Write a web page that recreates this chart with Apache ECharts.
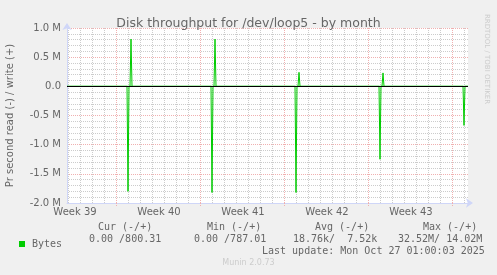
<!DOCTYPE html>
<html>
<head>
<meta charset="utf-8">
<script src="https://cdn.jsdelivr.net/npm/echarts@6/dist/echarts.min.js"></script>
<style>
html,body{margin:0;padding:0;background:#F0F0F0;}
#chart{width:497px;height:275px;}
</style>
</head>
<body>
<div id="chart"></div>
<script>
// Time unit: hours since the start of Week 39
var xMin = 70, xMax = 872;
var weekStarts = [168, 336, 504, 672, 840];
var weekLabelAt = [86, 254, 422, 590, 758];
var weekLabels = ['Week 39', 'Week 40', 'Week 41', 'Week 42', 'Week 43'];

// read samples (plotted negative)
var readTimes = [192, 360, 528, 696, 864];
var readValues = [-1.80e6, -1.82e6, -1.82e6, -1.25e6, -0.67e6];

// write samples (plotted positive)
var writeTimes = [78, 102, 126, 150, 174, 198, 222, 246, 270, 294, 318, 342, 366, 390, 414, 438, 462,
                  486, 510, 534, 558, 582, 606, 630, 654, 678, 702, 726, 750, 774, 798, 822, 846];
var writeValues = [20e3, 28e3, 18e3, 18e3, 18e3, 810e3, 20e3, 18e3, 18e3, 18e3, 18e3, 18e3, 810e3, 18e3, 18e3, 18e3, 18e3,
                   18e3, 18e3, 240e3, 18e3, 18e3, 18e3, 18e3, 18e3, 18e3, 230e3, 18e3, 18e3, 18e3, 18e3, 18e3, 18e3];

var legendHeaders = ['Cur (-/+)', 'Min (-/+)', 'Avg (-/+)', 'Max (-/+)'];
var legendValues = ['0.00 /800.31', '0.00 /787.01', '18.76k/  7.52k', '32.52M/ 14.02M'];
var lastUpdate = 'Last update: Mon Oct 27 01:00:03 2025';

var sampleHalf = 2; // one sample = 2 h (rrd step for month graph)
function buildSeries(times, values) {
  var out = [[xMin, 0]];
  for (var i = 0; i < times.length; i++) {
    out.push([times[i] - sampleHalf, 0]);
    out.push([times[i], values[i]]);
    out.push([times[i] + sampleHalf, 0]);
  }
  out.push([xMax, 0]);
  return out;
}
var dayLines = [];
for (var d = 72; d < xMax; d += 24) dayLines.push(d);

var FONT = '#666666';
var AXIS = '#CFD6F8';
var GRID = '#CCCCCC';
var MGRID = '#F0B0B0';
var GREEN = '#00CC00';
var mono = '"DejaVu Sans Mono", monospace';
var sans = '"DejaVu Sans", sans-serif';

var graphics = [];
var hdrX = [98, 207, 315, 423];
var valX = [89, 194, 293, 398];
for (var i = 0; i < legendHeaders.length; i++) {
  graphics.push({type:'text', left: hdrX[i], top: 222, style:{text: legendHeaders[i], font: '10px ' + mono, fill: FONT}});
  graphics.push({type:'text', left: valX[i], top: 234, style:{text: legendValues[i], font: '10px ' + mono, fill: FONT}});
}
graphics.push({type:'text', left: 262, top: 246, style:{text: lastUpdate, font: '10px ' + mono, fill: FONT}});
graphics.push({type:'text', left: 'center', top: 259, style:{text: 'Munin 2.0.73', font: '8px ' + sans, fill: '#CCCCCC'}});
graphics.push({type:'text', x: 487, y: 59, rotation: -Math.PI / 2,
  style:{text: 'RRDTOOL / TOBI OETIKER', font: '7px ' + sans, fill: '#CCCCCC', align: 'center', verticalAlign: 'middle'}});

var chart = echarts.init(document.getElementById('chart'), null, {renderer: 'canvas'});
chart.setOption({
  backgroundColor: '#F0F0F0',
  animation: false,
  title: {
    text: 'Disk throughput for /dev/loop5 - by month',
    left: 'center', top: 12,
    textStyle: {fontFamily: sans, fontSize: 12.5, fontWeight: 'normal', color: FONT}
  },
  legend: {
    data: ['Bytes'], left: 14, top: 234, itemWidth: 6, itemHeight: 6, icon: 'rect',
    textStyle: {fontFamily: mono, fontSize: 10, color: FONT, padding: [0, 0, 0, 2]}
  },
  grid: {left: 67, right: 29, top: 28, bottom: 72, show: true, backgroundColor: '#FFFFFF', borderWidth: 0,
    containLabel: false, outerBoundsMode: 'none'},
  xAxis: [{
    type: 'value', min: xMin, max: xMax, position: 'bottom',
    axisLine: {onZero: false, lineStyle: {color: AXIS, width: 1}, symbol: ['none', 'arrow'], symbolSize: [7, 7], symbolOffset: [0, 5]},
    axisTick: {show: true, customValues: dayLines, length: 0, lineStyle: {color: 'rgba(0,0,0,0)'}},
    axisLabel: {show: false},
    splitLine: {show: true, lineStyle: {color: GRID, type: [1, 1], width: 1}}
  }, {
    type: 'value', min: xMin, max: xMax, position: 'bottom',
    axisLine: {show: false, onZero: false},
    axisTick: {show: true, customValues: weekStarts, inside: false, length: 3, lineStyle: {color: MGRID, type: [1, 1]}},
    axisLabel: {show: true, customValues: weekLabelAt, margin: 4, fontFamily: sans, fontSize: 10, color: FONT,
      formatter: function (v) {
        for (var i = 0; i < weekLabelAt.length; i++) if (Math.abs(weekLabelAt[i] - v) < 1e-6) return weekLabels[i];
        return '';
      }},
    splitLine: {show: true, lineStyle: {color: MGRID, type: [1, 1], width: 1}}
  }],
  yAxis: {
    type: 'value', min: -2e6, max: 1e6, interval: 5e5,
    name: 'Pr second read (-) / write (+)', nameLocation: 'middle', nameGap: 52, nameRotate: 90,
    nameTextStyle: {fontFamily: sans, fontSize: 10, color: FONT},
    axisLine: {show: true, onZero: false, lineStyle: {color: AXIS, width: 1}, symbol: ['none', 'arrow'], symbolSize: [7, 7], symbolOffset: [0, 5]},
    axisTick: {show: false},
    axisLabel: {margin: 6, fontFamily: sans, fontSize: 10, color: FONT,
      formatter: function (v) { return v === 0 ? '0.0' : (v / 1e6).toFixed(1) + ' M'; }},
    splitLine: {show: true, lineStyle: {color: MGRID, type: [1, 1], width: 1}},
    minorTick: {show: false, splitNumber: 5},
    minorSplitLine: {show: true, lineStyle: {color: GRID, type: [1, 1], width: 1}}
  },
  series: [{
    name: 'Bytes', type: 'line', xAxisIndex: 0, data: buildSeries(writeTimes, writeValues),
    showSymbol: false, symbol: 'none', lineStyle: {color: GREEN, width: 1}, itemStyle: {color: GREEN}
  }, {
    name: 'Bytes', type: 'line', xAxisIndex: 0, data: buildSeries(readTimes, readValues),
    showSymbol: false, symbol: 'none', lineStyle: {color: GREEN, width: 1}, itemStyle: {color: GREEN},
    markLine: {silent: true, symbol: 'none', label: {show: false}, lineStyle: {color: '#000000', width: 1, type: 'solid'},
      data: [{yAxis: 0}]}
  }],
  graphic: graphics
});
</script>
</body>
</html>
